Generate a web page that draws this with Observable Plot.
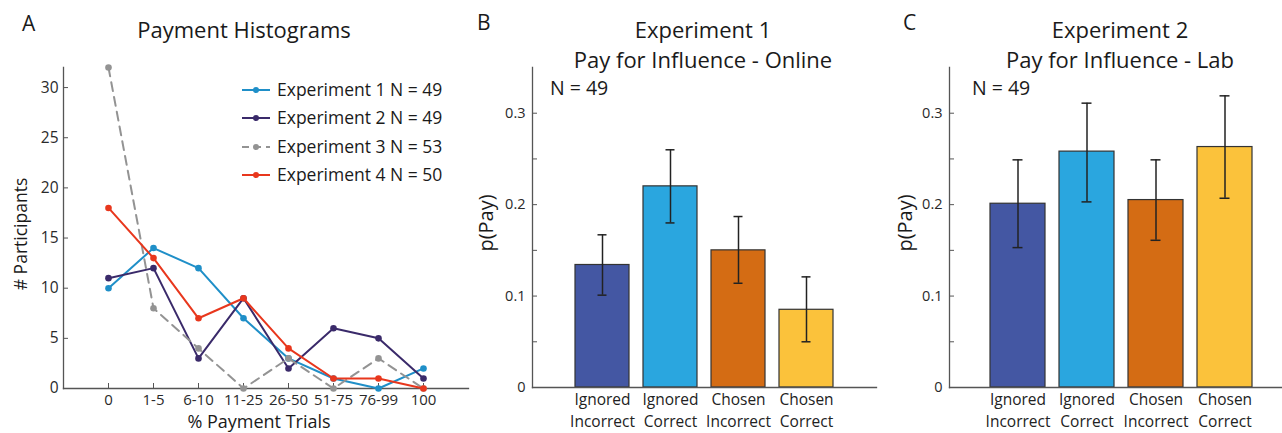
<!DOCTYPE html>
<html><head><meta charset="utf-8">
<script src="https://cdn.jsdelivr.net/npm/d3@7"></script>
<script src="https://cdn.jsdelivr.net/npm/@observablehq/plot@0.6"></script>
<style>
html,body{margin:0;padding:0;background:#fff;overflow:hidden;}
#wrap{position:relative;width:1282px;height:433px;overflow:hidden;font-family:"Open Sans", Lato, sans-serif;color:#1a1a1a;}
.abs{position:absolute;white-space:nowrap;line-height:1;}
.rot{position:absolute;white-space:nowrap;line-height:1;transform:translate(-50%,-50%) rotate(-90deg);}
.ctr{position:absolute;white-space:nowrap;line-height:1;transform:translateX(-50%);text-align:center;}
</style></head><body><div id="wrap"></div>
<script>
// ---------- Data ----------
const categories = ["0","1-5","6-10","11-25","26-50","51-75","76-99","100"];
const exp1Counts = [10,14,12,7,3,1,0,2];
const exp2Counts = [11,12,3,9,2,6,5,1];
const exp3Counts = [32,8,4,0,3,0,3,0];
const exp4Counts = [18,13,7,9,4,1,1,0];
const seriesNames = ["Experiment 1 N = 49","Experiment 2 N = 49","Experiment 3 N = 53","Experiment 4 N = 50"];
const seriesColors = ["#1f8fc8","#3a2a6a","#939393","#e8371d"];
const seriesDash = [null,null,"9,6",null];
const histTicks = [0,5,10,15,20,25,30];

const conditions = ["Ignored\nIncorrect","Ignored\nCorrect","Chosen\nIncorrect","Chosen\nCorrect"];
const barColors = ["#4457a3","#2aa6df","#d46c14","#fbc23b"];
const exp1Pay = [0.134,0.220,0.150,0.085];
const exp1Lo  = [0.101,0.180,0.114,0.050];
const exp1Hi  = [0.167,0.260,0.187,0.121];
const exp2Pay = [0.201,0.258,0.205,0.263];
const exp2Lo  = [0.153,0.203,0.161,0.207];
const exp2Hi  = [0.249,0.311,0.249,0.319];
const payTicks = [0,0.05,0.1,0.15,0.2,0.25,0.3];
const payTickLabels = ["0","","0.1","","0.2","","0.3"];

const wrap = document.getElementById("wrap");
const FONT = "'Open Sans', Lato, sans-serif";
const AX = "#555";

function place(svg, left){ svg.style.position="absolute"; svg.style.left=left+"px"; svg.style.top="0px"; wrap.appendChild(svg); }
function txt(cls, html, left, top, size, extra){ const d=document.createElement("div"); d.className=cls; d.innerHTML=html; d.style.left=left+"px"; d.style.top=top+"px"; d.style.fontSize=size+"px"; if(extra) Object.assign(d.style, extra); wrap.appendChild(d); return d; }

// ---------- Panel A ----------
const allCounts = [exp1Counts, exp2Counts, exp3Counts, exp4Counts];
const histData = allCounts.flatMap((s,k)=>s.map((v,i)=>({i, v, k})));
const lineMarks = [];
allCounts.forEach((s,k)=>{
  const d = histData.filter(r=>r.k===k);
  lineMarks.push(Plot.line(d,{x:"i",y:"v",stroke:seriesColors[k],strokeWidth:2,strokeDasharray:seriesDash[k]||undefined}));
  lineMarks.push(Plot.dot(d,{x:"i",y:"v",r:3.3,fill:seriesColors[k],stroke:"none"}));
});
const A = Plot.plot({
  width:480, height:433, marginLeft:63, marginTop:67, marginBottom:45, marginRight:12,
  style:{background:"transparent", fontFamily:FONT, overflow:"visible", color:"#2a2a2a"},
  x:{domain:[-1,8]}, y:{domain:[0,32]},
  marks:[
    Plot.frame({anchor:"left", stroke:AX, strokeWidth:1.3}),
    Plot.frame({anchor:"bottom", stroke:AX, strokeWidth:1.3}),
    Plot.axisY({ticks:histTicks, tickSize:-5, tickPadding:10, fontSize:15.5, label:null, stroke:AX}),
    Plot.axisX({ticks:d3.range(categories.length), tickFormat:i=>categories[i], tickSize:-5, tickPadding:10.5, fontSize:15, label:null, stroke:AX}),
    ...lineMarks
  ]
});
place(A, 0);

// ---------- Bar panels ----------
function barPanel(vals, lo, hi, width, marginLeft){
  const idx = d3.range(conditions.length);
  return Plot.plot({
    width, height:433, marginLeft, marginRight:0, marginTop:67, marginBottom:46,
    style:{background:"transparent", fontFamily:FONT, overflow:"visible", color:"#2a2a2a"},
    x:{domain:conditions, paddingInner:0.2, paddingOuter:0.6},
    y:{domain:[0,0.35]},
    color:{type:"identity"},
    marks:[
      Plot.barY(idx,{x:i=>conditions[i], y:i=>vals[i], fill:i=>barColors[i], stroke:"#333", strokeWidth:1.2}),
      Plot.ruleX(idx,{x:i=>conditions[i], y1:i=>lo[i], y2:i=>hi[i], stroke:"#222", strokeWidth:1.5}),
      Plot.tickY(idx,{x:i=>conditions[i], y:i=>lo[i], stroke:"#222", strokeWidth:1.5, insetLeft:22.5, insetRight:22.5}),
      Plot.tickY(idx,{x:i=>conditions[i], y:i=>hi[i], stroke:"#222", strokeWidth:1.5, insetLeft:22.5, insetRight:22.5}),
      Plot.frame({anchor:"left", stroke:AX, strokeWidth:1.3}),
      Plot.frame({anchor:"bottom", stroke:AX, strokeWidth:1.3}),
      Plot.axisY({ticks:payTicks, tickFormat:d=>payTickLabels[payTicks.indexOf(d)], tickSize:-5, tickPadding:12, fontSize:14.5, label:null, stroke:AX}),
      Plot.axisX({tickSize:0, tickPadding:2, fontSize:15.5, lineHeight:1.42, label:null, fill:"#222"})
    ]
  });
}
place(barPanel(exp1Pay, exp1Lo, exp1Hi, 436, 92), 440);
place(barPanel(exp2Pay, exp2Lo, exp2Hi, 434, 89), 860);

// ---------- Texts ----------
txt("abs","A",22,13,21);
txt("abs","B",477,12,21);
txt("abs","C",903,12,21);
txt("ctr","Payment Histograms",244,17.5,22);
txt("rot","# Participants",21,234,17.5);
txt("ctr","% Payment Trials",259,411.7,18);
txt("ctr","Experiment 1<br>Pay for Influence - Online",703,14,22,{lineHeight:"30px"});
txt("ctr","Experiment 2<br>Pay for Influence - Lab",1120,14,22,{lineHeight:"30px"});
txt("rot","p(Pay)",486,223,20);
txt("rot","p(Pay)",905,223,20);
txt("abs","N = 49",550,77.5,19.5);
txt("abs","N = 49",972,77.5,19.5);

// legend
const legY = [90,118,147,175];
seriesNames.forEach((name,k)=>{
  const ns="http://www.w3.org/2000/svg";
  const s=document.createElementNS(ns,"svg");
  s.setAttribute("width",30); s.setAttribute("height",10);
  s.style.position="absolute"; s.style.left="241px"; s.style.top=(legY[k]-5)+"px";
  const l=document.createElementNS(ns,"line");
  l.setAttribute("x1",1); l.setAttribute("x2",29); l.setAttribute("y1",5); l.setAttribute("y2",5);
  l.setAttribute("stroke",seriesColors[k]); l.setAttribute("stroke-width",2);
  if(seriesDash[k]) l.setAttribute("stroke-dasharray","7,5");
  const c=document.createElementNS(ns,"circle");
  c.setAttribute("cx",15); c.setAttribute("cy",5); c.setAttribute("r",3); c.setAttribute("fill",seriesColors[k]);
  s.appendChild(l); s.appendChild(c); wrap.appendChild(s);
  txt("abs",name,277,legY[k]-9.3,17.5);
});
</script></body></html>
